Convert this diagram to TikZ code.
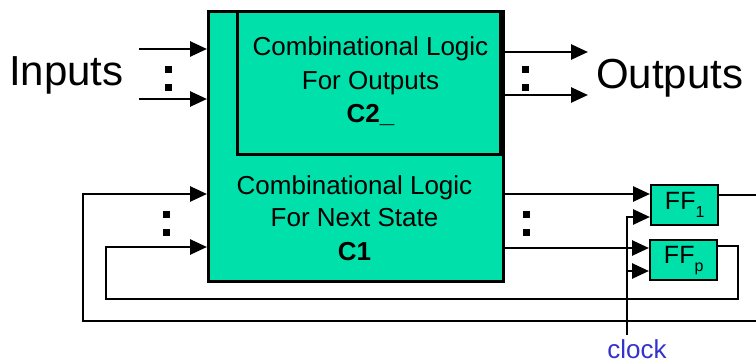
\documentclass[tikz,border=0pt]{standalone}
\usepackage{fontspec}
\setmainfont{Liberation Sans}
\usetikzlibrary{arrows.meta}

\definecolor{logicgreen}{RGB}{0,224,170}
\definecolor{clockblue}{RGB}{51,51,204}

\tikzset{
  blk/.style={draw=black, line width=2.8pt, fill=logicgreen, rectangle, inner sep=0pt},
  ffbox/.style={draw=black, line width=2.4pt, fill=logicgreen, rectangle, inner sep=0pt,
                minimum width=67pt, minimum height=40pt,
                font=\fontsize{25}{25}\selectfont},
  wire/.style={line width=2.7pt},
  arr/.style={wire, -{Triangle[length=17pt,width=15pt]}},
  dotmark/.style={fill=black, rectangle, minimum size=7pt, inner sep=0pt},
  boxtext/.style={anchor=base, inner sep=0pt, font=\fontsize{26}{26}\selectfont},
  bigtext/.style={anchor=base west, inner sep=0pt, font=\fontsize{42}{42}\selectfont},
}
\newcommand{\ffsub}[1]{{\fontsize{16}{16}\selectfont\raisebox{-8pt}{#1}}}

\begin{document}
\begin{tikzpicture}[x=1pt, y=-1pt]
  \useasboundingbox (0,0) rectangle (756,364);
  \clip (0,0) rectangle (756,364);

  % logic blocks
  \node[blk, minimum width=295pt, minimum height=270pt, anchor=north west] (c1) at (207,10) {};
  \node[blk, minimum width=263pt, minimum height=143pt, anchor=north east] (c2) at (502,10) {};

  \node[boxtext] (c2a) at (370.5,56) {Combinational Logic};
  \node[boxtext] (c2b) at (370.5,89) {For Outputs};
  \node[boxtext] (c2c) at (370.5,122) {\bfseries C2\_};

  \node[boxtext] (c1a) at (354.5,194) {Combinational Logic};
  \node[boxtext] (c1b) at (354.5,226) {For Next State};
  \node[boxtext] (c1c) at (354.5,260) {\bfseries C1};

  % flip-flops
  \node[ffbox, anchor=north west] (ff1) at (650,184) {FF\ffsub{1}};
  \node[ffbox, anchor=north west] (ffp) at (649,239) {FF\ffsub{p}};

  % labels
  \node[bigtext] (inlbl) at (9,85) {Inputs};
  \node[bigtext] (outlbl) at (596,88) {Outputs};
  \node[anchor=base, inner sep=0pt, text=clockblue, font=\fontsize{26}{26}\selectfont] (clklbl) at (637,358) {clock};

  % ellipsis marks
  \node[dotmark] (ia) at (168,69) {};
  \node[dotmark] (ib) at (168,87) {};
  \node[dotmark] (oa) at (525,69) {};
  \node[dotmark] (ob) at (525,87) {};
  \node[dotmark] (fa) at (166.5,214.5) {};
  \node[dotmark] (fb) at (166.5,232.5) {};
  \node[dotmark] (na) at (526.5,214.5) {};
  \node[dotmark] (nb) at (526.5,232.5) {};

  % connection points
  \coordinate (inA) at (139,49);
  \coordinate (inB) at (139,99);
  \coordinate (outA) at (588,52);
  \coordinate (outB) at (588,95);
  \coordinate (d1) at (650,194);
  \coordinate (dp) at (649,248);
  \coordinate (ck1) at (650,217);
  \coordinate (ckp) at (649,271);
  \coordinate (clk) at (627,335);
  \coordinate (q1) at (717,195);
  \coordinate (qp) at (716,246);
  \coordinate (loopA) at (83,321);
  \coordinate (loopB) at (106,299);
  \coordinate (fbA) at (207,194);
  \coordinate (fbB) at (207,247);

  % inputs and outputs
  \draw[arr] (inA) -- (inA -| c1.west);
  \draw[arr] (inB) -- (inB -| c1.west);
  \draw[arr] (outA -| c2.east) -- (outA);
  \draw[arr] (outB -| c2.east) -- (outB);

  % next-state lines into the flip-flops
  \draw[arr] (d1 -| c1.east) -- (d1);
  \draw[arr] (dp -| c1.east) -- (dp);

  % clock distribution
  \draw[arr] (clk) |- (ck1);
  \draw[arr] (clk) |- (ckp);

  % state feedback
  \draw[arr] (q1) -- (775,195) |- (loopA) |- (fbA);
  \draw[arr] (qp) -- (738,246) |- (loopB) |- (fbB);
\end{tikzpicture}
\end{document}
